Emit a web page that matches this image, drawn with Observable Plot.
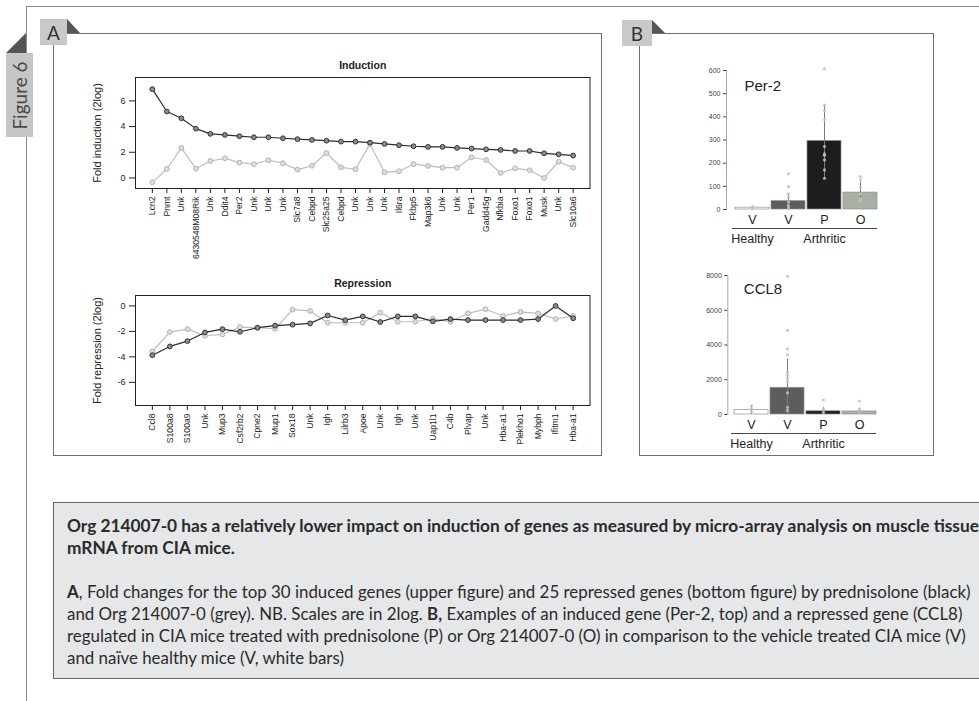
<!DOCTYPE html>
<html>
<head>
<meta charset="utf-8">
<script src="https://cdn.jsdelivr.net/npm/d3@7"></script>
<script src="https://cdn.jsdelivr.net/npm/@observablehq/plot@0.6"></script>
<style>
  html, body { margin: 0; padding: 0; background: #fff; }
  #page { position: relative; width: 979px; height: 701px; overflow: hidden; font-family: Lato, "Open Sans", sans-serif; }
  .abs { position: absolute; box-sizing: border-box; }
  .tri { position: absolute; background: #555; }
  .label-box { position: absolute; background: #c9c9c9; color: #333; font-size: 19px; display: flex; align-items: center; justify-content: center; }
  .panel { position: absolute; border: 1.5px solid #6e6e6e; box-sizing: border-box; }
  #caption { position: absolute; left: 53px; top: 502px; width: 1000px; height: 177px; background: #e6e7e8;
             border-top: 1.5px solid #666; border-bottom: 1.5px solid #666; border-left: 1.5px solid #666;
             box-sizing: border-box; padding: 12px 0 0 13px; color: #2b2b2b; font-size: 16.9px; line-height: 22px; }
  #caption div { white-space: nowrap; height: 22px; }
  #caption .head { font-weight: bold; font-size: 17.3px; }
</style>
</head>
<body>
<div id="page">
  <!-- outer figure frame -->
  <div class="abs" style="left:26px; top:6px; width:1000px; height:800px; border-left:1.5px solid #8d8d8d; border-top:1.5px solid #8d8d8d;"></div>
  <div class="tri" style="left:6px; top:33px; width:20px; height:20px; clip-path:polygon(100% 0, 100% 100%, 0 100%);"></div>
  <div class="abs" style="left:6px; top:53px; width:27px; height:84px; background:#c6c6c6;"></div>
  <div class="abs" style="left:6px; top:53px; width:27px; height:84px; display:flex; align-items:center; justify-content:center;">
    <div style="transform:rotate(-90deg); white-space:nowrap; color:#4a4a4a; font-size:19px;">Figure 6</div>
  </div>

  <!-- panel A -->
  <div class="panel" style="left:53px; top:33px; width:549px; height:423px;"></div>
  <div class="label-box" style="left:40px; top:19px; width:27px; height:26px;">A</div>
  <div class="tri" style="left:67px; top:19px; width:13px; height:14px; clip-path:polygon(0 0, 0 100%, 100% 100%);"></div>

  <!-- panel B -->
  <div class="panel" style="left:639px; top:33px; width:295px; height:423px;"></div>
  <div class="label-box" style="left:622px; top:20px; width:30px; height:26px;">B</div>
  <div class="tri" style="left:652px; top:20px; width:13px; height:13px; clip-path:polygon(0 0, 0 100%, 100% 100%);"></div>

  <!-- legend text -->
  <div id="caption">
    <div class="head">Org 214007-0 has a relatively lower impact on induction of genes as measured by micro-array analysis on muscle tissue</div>
    <div class="head">mRNA from CIA mice.</div>
    <div></div>
    <div><b>A</b>, Fold changes for the top 30 induced genes (upper figure) and 25 repressed genes (bottom figure) by prednisolone (black)</div>
    <div>and Org 214007-0 (grey). NB. Scales are in 2log. <b>B,</b> Examples of an induced gene (Per-2, top) and a repressed gene (CCL8)</div>
    <div>regulated in CIA mice treated with prednisolone (P) or Org 214007-0 (O) in comparison to the vehicle treated CIA mice (V)</div>
    <div>and naïve healthy mice (V, white bars)</div>
  </div>
</div>

<script>
// ---- Panel A: fold changes (2log) per gene ----
const inductionGenes = ["Lcn2", "Pnmt", "Unk", "6430548M08Rik", "Unk", "Ddit4", "Per2", "Unk", "Unk", "Unk",
  "Slc7a8", "Cebpd", "Slc25a25", "Cebpd", "Unk", "Unk", "Unk", "Il6ra", "Fkbp5", "Map3k6",
  "Unk", "Unk", "Per1", "Gadd45g", "Nfkbia", "Foxo1", "Foxo1", "Musk", "Unk", "Slc10a6"];
const inductionPred = [6.91, 5.17, 4.65, 3.84, 3.43, 3.35, 3.25, 3.17, 3.17, 3.09,
  3.02, 2.96, 2.90, 2.83, 2.83, 2.75, 2.65, 2.55, 2.47, 2.42,
  2.42, 2.34, 2.29, 2.23, 2.18, 2.10, 2.10, 1.92, 1.84, 1.74];
const inductionOrg = [-0.34, 0.70, 2.34, 0.72, 1.32, 1.53, 1.19, 1.07, 1.38, 1.15,
  0.65, 0.95, 1.94, 0.83, 0.68, 2.65, 0.44, 0.52, 1.07, 0.94,
  0.80, 0.80, 1.61, 1.40, 0.39, 0.75, 0.60, 0.00, 1.27, 0.80];

const repressionGenes = ["Ccl8", "S100a8", "S100a9", "Unk", "Mup3", "Csf2rb2", "Cpne2", "Mup1", "Sox18", "Unk",
  "Igh", "Lilrb3", "Apoe", "Unk", "Igh", "Unk", "Uap1l1", "C4b", "Plvap", "Unk",
  "Hba-a1", "Plekho1", "Mybph", "Ifitm1", "Hba-a1"];
const repressionPred = [-3.87, -3.18, -2.76, -2.08, -1.82, -2.03, -1.71, -1.55, -1.47, -1.37,
  -0.75, -1.12, -0.82, -1.26, -0.82, -0.82, -1.21, -1.03, -1.11, -1.11,
  -1.11, -1.11, -1.03, 0.00, -0.97];
const repressionOrg = [-3.58, -2.05, -1.82, -2.34, -2.24, -1.66, -1.71, -1.79, -0.29, -0.39,
  -1.32, -1.32, -1.32, -0.53, -1.24, -1.24, -1.00, -1.24, -0.58, -0.26,
  -0.79, -0.47, -0.58, -1.03, -0.79];

// ---- Panel B: expression per treatment group ----
const barKeys = ["HV", "AV", "AP", "AO"];
const barLabels = ["V", "V", "P", "O"];
const groupNames = ["Healthy", "Arthritic"];
const groupFirst = ["HV", "AV"];
const groupLast = ["HV", "AO"];
const groupMid = ["HV", "AP"];

const per2Mean = [8, 36, 296, 73];
const per2Low = [2, 3, 138, 28];
const per2High = [14, 69, 454, 118];
const per2Mice = [[5, 10], [154, 99, 68, 53, 32, 17, 8], [607, 449, 427, 388, 272, 240, 233, 214, 171, 135], [142, 128, 96, 68, 46, 35]];

const ccl8Mean = [260, 1537, 185, 175];
const ccl8Low = [10, 0, 0, 0];
const ccl8High = [520, 3185, 405, 370];
const ccl8Mice = [[500, 330, 150], [7944, 4850, 3780, 3430, 2440, 2260, 2070, 1890, 1240, 407, 222], [833, 315, 120], [777, 315, 120]];

const page = document.getElementById("page");
const rFont = "'Liberation Sans', Arial, Helvetica, sans-serif";

function place(svg, left, top) {
  svg.style.position = "absolute";
  svg.style.left = left + "px";
  svg.style.top = top + "px";
  page.appendChild(svg);
}

// line profile of fold changes, prednisolone (black) vs Org 214007-0 (grey)
function profile({genes, pred, org, yDomain, yTicks, title, ylabel, top, height, marginBottom}) {
  const n = genes.length;
  const ext = 0.04 * (n - 1);
  const rows = genes.map((g, k) => ({i: k + 1, gene: g, pred: pred[k], org: org[k]}));
  const svg = Plot.plot({
    width: 545, height,
    marginLeft: 75, marginRight: 15.5, marginTop: 35, marginBottom,
    style: {fontFamily: rFont, background: "transparent", overflow: "visible", color: "#222"},
    x: {domain: [1 - ext, n + ext]},
    y: {domain: yDomain},
    marks: [
      Plot.axisY({ticks: yTicks, tickFormat: d => String(d), tickSize: 6, tickPadding: 4, fontSize: 9, label: null}),
      Plot.axisX({ticks: d3.range(1, n + 1), tickFormat: i => genes[i - 1], tickRotate: -90, tickSize: 5, tickPadding: 3, fontSize: 8.6, label: null}),
      Plot.text([ylabel], {text: d => d, frameAnchor: "left", textAnchor: "middle", rotate: -90, dx: -38, fontSize: 11}),
      Plot.text([title], {text: d => d, frameAnchor: "top", dy: -16, fontWeight: "bold", fontSize: 10.5}),
      Plot.line(rows, {x: "i", y: "org", stroke: "#bdbdbd", strokeWidth: 1.2}),
      Plot.dot(rows, {x: "i", y: "org", r: 2.4, stroke: "#b2b2b2", fill: "#dedede", strokeWidth: 1}),
      Plot.line(rows, {x: "i", y: "pred", stroke: "#2c2c2c", strokeWidth: 1.2}),
      Plot.dot(rows, {x: "i", y: "pred", r: 2.4, stroke: "#333", fill: "#8c8c8c", strokeWidth: 1}),
      Plot.frame({stroke: "#222", strokeWidth: 1})
    ]
  });
  place(svg, 60, top);
}

profile({genes: inductionGenes, pred: inductionPred, org: inductionOrg,
  yDomain: [-0.82, 7.82], yTicks: [0, 2, 4, 6], title: "Induction", ylabel: "Fold induction (2log)",
  top: 42, height: 230, marginBottom: 84});
profile({genes: repressionGenes, pred: repressionPred, org: repressionOrg,
  yDomain: [-7.82, 0.82], yTicks: [0, -2, -4, -6], title: "Repression", ylabel: "Fold repression (2log)",
  top: 260, height: 210, marginBottom: 65});

// bar chart of one gene across treatment groups, with individual mice
const barFill = {HV: "#ffffff", AV: "#5b5e5a", AP: "#1d1d1d", AO: "#a8b0a6"};
function barPanel({means, low, high, mice, ticks, yMax, title, left, top, marginLeft, xRange, titleDx, titleDy}) {
  const bars = barKeys.map((k, j) => ({key: k, mean: means[j], lo: low[j], hi: high[j]}));
  const dots = barKeys.flatMap((k, j) => mice[j].map(v => ({key: k, v})));
  const groups = groupNames.map((g, j) => ({name: g, first: groupFirst[j], last: groupLast[j], mid: groupMid[j]}));
  const svg = Plot.plot({
    width: 210, height: 154 + 46, marginLeft, marginRight: 10, marginTop: 15, marginBottom: 46,
    style: {fontFamily: rFont, background: "transparent", overflow: "visible", color: "#222"},
    x: {type: "band", domain: barKeys, range: xRange, paddingInner: 0.06, paddingOuter: 0},
    y: {domain: [0, yMax]},
    marks: [
      Plot.frame({anchor: "left", stroke: "#a8a8a8"}),
      Plot.axisY({ticks, tickFormat: d => String(d), tickSize: 3, tickPadding: 3, fontSize: 7, color: "#444", label: null}),
      Plot.barY(bars, {x: "key", y: "mean", fill: d => barFill[d.key], stroke: "#8f8f8f", strokeWidth: 0.7}),
      Plot.ruleX(bars, {x: "key", y1: "lo", y2: "hi", stroke: "#7a7a7a", strokeWidth: 1}),
      Plot.dot(dots, {x: "key", y: "v", r: 1.6, fill: "#c2c2c2", fillOpacity: 0.85}),
      Plot.axisX({tickSize: 0, tickPadding: 6, tickFormat: k => barLabels[barKeys.indexOf(k)], fontSize: 12.5, label: null}),
      Plot.ruleY(groups, {x1: "first", x2: "last", y: d => 0, dy: 19, stroke: "#444", insetLeft: -3}),
      Plot.text(groups, {x: "mid", y: d => 0, dy: 29, text: "name", fontSize: 12.5}),
      Plot.text([title], {text: d => d, frameAnchor: "top-left", dx: titleDx, dy: titleDy, textAnchor: "start", fontSize: 15})
    ]
  });
  place(svg, left, top);
}

barPanel({means: per2Mean, low: per2Low, high: per2High, mice: per2Mice,
  ticks: d3.range(0, 601, 100), yMax: 600, title: "Per-2",
  left: 680, top: 55, marginLeft: 46, xRange: [52.7, 198.3], titleDx: 18, titleDy: 10});
barPanel({means: ccl8Mean, low: ccl8Low, high: ccl8High, mice: ccl8Mice,
  ticks: d3.range(0, 8001, 2000), yMax: 8000, title: "CCL8",
  left: 680, top: 260, marginLeft: 47.3, xRange: [53.3, 197.3], titleDx: 16, titleDy: 8});
</script>
</body>
</html>
